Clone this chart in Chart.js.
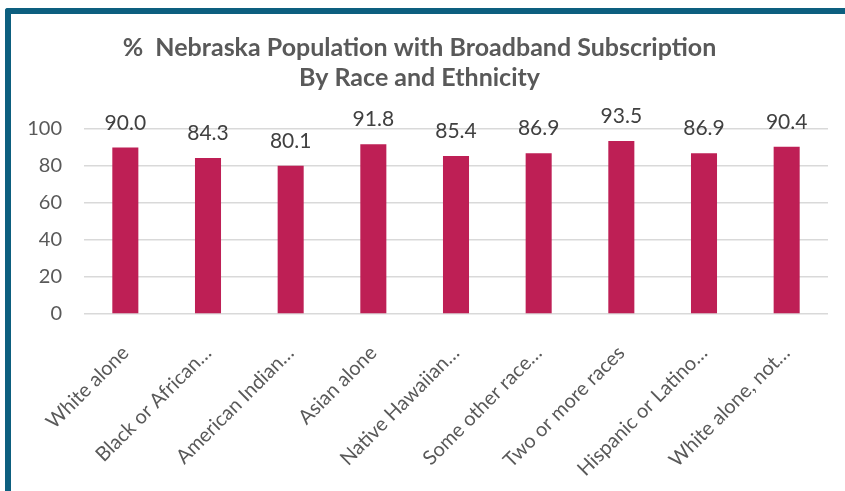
<!DOCTYPE html>
<html>
<head>
<meta charset="utf-8">
<script src="https://cdn.jsdelivr.net/npm/chart.js@4/dist/chart.umd.min.js"></script>
<style>
  html, body { margin: 0; padding: 0; background: #fff; overflow: hidden; width: 845px; height: 491px; }
  .frame {
    position: absolute; left: 5px; top: 8px; width: 850px; height: 490px;
    border-top: 6px solid #0d5f7f; border-left: 6px solid #0d5f7f;
    border-top-left-radius: 3px; background: #fff;
  }
  .frame canvas { position: absolute; left: 0; top: 0; }
</style>
</head>
<body>
<div class="frame">
  <canvas id="broadbandChart" width="834" height="477" style="width:834px;height:477px"></canvas>
</div>
<script>
// Chart data
const categories = [
  "White alone",
  "Black or African…",
  "American Indian…",
  "Asian alone",
  "Native Hawaiian…",
  "Some other race…",
  "Two or more races",
  "Hispanic or Latino…",
  "White alone, not…"
];
const broadbandPct = [90.0, 84.3, 80.1, 91.8, 85.4, 86.9, 93.5, 86.9, 90.4];
const titleLines = ["%  Nebraska Population with Broadband Subscription", "By Race and Ethnicity"];

const textGrey = "#595959";
const barColor = "#be1f55";

// Value labels above each bar
const valueLabels = {
  id: "valueLabels",
  afterDatasetsDraw(chart) {
    const ctx = chart.ctx;
    const meta = chart.getDatasetMeta(0);
    ctx.save();
    ctx.font = "21px Lato";
    ctx.fillStyle = "#404040";
    ctx.textAlign = "center";
    ctx.textBaseline = "alphabetic";
    meta.data.forEach((bar, i) => {
      ctx.fillText(broadbandPct[i].toFixed(1), bar.x, bar.y - 18);
    });
    ctx.restore();
  }
};

const canvas = document.getElementById("broadbandChart");
new Chart(canvas, {
  type: "bar",
  data: {
    labels: categories,
    datasets: [{
      label: "% with broadband",
      data: broadbandPct,
      backgroundColor: barColor,
      borderWidth: 0,
      categoryPercentage: 1,
      barPercentage: 0.315
    }]
  },
  options: {
    responsive: false,
    animation: false,
    layout: { padding: { left: 0, right: 17, top: 0, bottom: 0 } },
    plugins: {
      legend: { display: false },
      tooltip: { enabled: false },
      title: {
        display: true,
        text: titleLines,
        color: textGrey,
        font: { family: "Lato", size: 25, weight: "bold", lineHeight: 1.2 },
        padding: { top: 19, bottom: 36 }
      }
    },
    scales: {
      y: {
        min: 0,
        max: 100,
        afterFit(scale) { scale.width = 73; },
        ticks: {
          stepSize: 20,
          color: textGrey,
          font: { family: "Lato", size: 20 },
          padding: 22
        },
        grid: { color: "#d9d9d9", lineWidth: 1.6, drawTicks: false },
        border: { display: false }
      },
      x: {
        afterFit(scale) { scale.height = 177; },
        ticks: {
          color: textGrey,
          font: { family: "Lato", size: 20 },
          minRotation: 45,
          maxRotation: 45,
          autoSkip: false,
          padding: 27
        },
        grid: { display: false, drawTicks: false },
        border: { display: false }
      }
    }
  },
  plugins: [valueLabels]
});
</script>
</body>
</html>
